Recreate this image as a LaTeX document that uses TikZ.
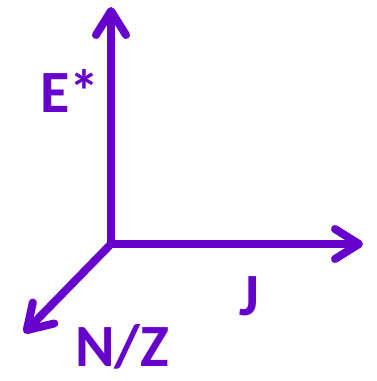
\documentclass[tikz,border=0pt]{standalone}
\usepackage{fontspec}
\setmainfont{Carlito}
\usetikzlibrary{arrows.meta}
\definecolor{axpurple}{RGB}{102,0,204}

\begin{document}
\begin{tikzpicture}[x=1pt,y=1pt,
  axis/.style={draw=axpurple,line width=8pt,line cap=round,line join=round,
    -{Straight Barb[length=24pt,width=30pt,round]}},
  lbl/.style={font=\fontsize{60}{62}\selectfont\bfseries,text=axpurple,inner sep=0pt}]

\path[use as bounding box] (0,0) rectangle (376,381);
\coordinate (origin) at (111,137);
\coordinate (etip) at (111,374);
\coordinate (jtip) at (363,137);
\coordinate (ntip) at (24,48);
\draw[axis] (origin)--(etip);
\draw[axis] (origin)--(jtip);
\draw[axis] (origin)--(ntip);
\node[lbl,anchor=base west] (elabel) at (40,268) {E*};
\node[lbl,anchor=base] (jlabel) at (249,66) {J};
\node[lbl,anchor=base] (nlabel) at (122,15) {N/Z};

\end{tikzpicture}
\end{document}
